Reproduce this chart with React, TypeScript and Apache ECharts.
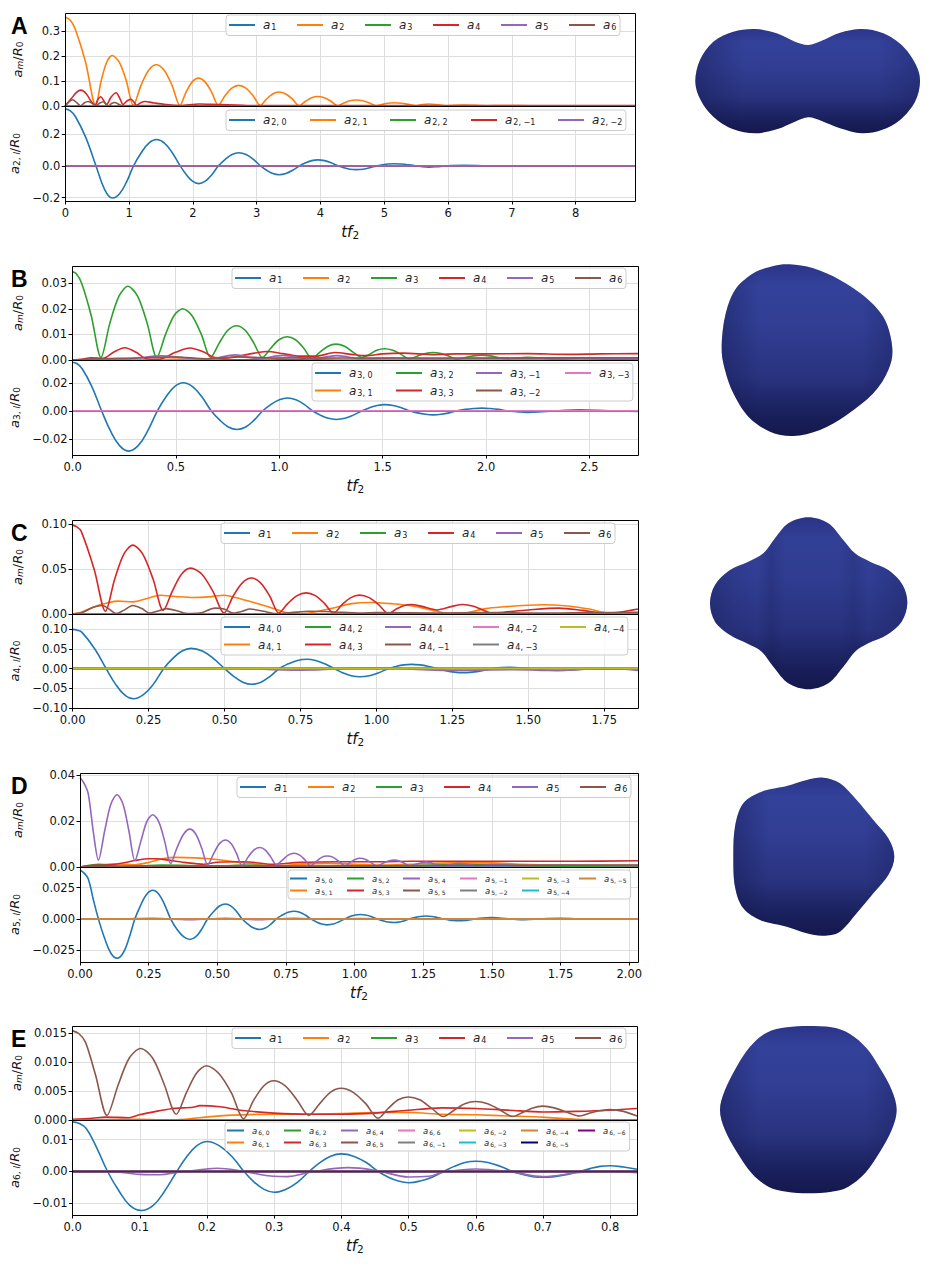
import { useEffect, useRef } from 'react'
import * as echarts from 'echarts'

const FONT = 'DejaVu Sans'
const PALETTE = ['#1f77b4', '#ff7f0e', '#2ca02c', '#d62728', '#9467bd', '#8c564b', '#e377c2', '#7f7f7f', '#bcbd22', '#17becf', '#cd853f', '#000080', '#800080']

// ---- panel A ----
const xMaxA = 8.93
const ampA2 = [[0,.358],[.08,.346],[.16,.31],[.32,.179],[.48,.002],[.567,.1015],[.653,.176],[.74,.203],[.85,.176],[.96,.1015],[1.07,.002],[1.19,.083],[1.31,.144],[1.43,.166],[1.553,.144],[1.677,.083],[1.8,.002],[1.897,.056],[1.993,.097],[2.09,.112],[2.193,.097],[2.297,.056],[2.4,.003],[2.507,.0415],[2.613,.072],[2.72,.083],[2.833,.072],[2.947,.0415],[3.06,.002],[3.157,.028],[3.253,.0485],[3.35,.056],[3.457,.0485],[3.563,.028],[3.67,.001],[3.767,.019],[3.863,.033],[3.96,.038],[4.063,.033],[4.167,.019],[4.27,.001],[4.367,.012],[4.463,.021],[4.56,.024],[4.667,.021],[4.773,.012],[4.88,.001],[4.97,.0065],[5.06,.0113],[5.15,.013],[5.267,.0113],[5.383,.0065],[5.5,.001],[5.6,.006],[5.7,.008],[5.85,.005],[6,.001],[6.25,.004],[6.6,.001],[6.9,.002],[7.3,.001],[8.93,.0005]]
const ampA4 = [[0,0],[.1,.03],[.18,.055],[.25,.064],[.33,.05],[.42,.015],[.47,.004],[.52,.028],[.56,.037],[.61,.02],[.65,.006],[.72,.035],[.8,.053],[.86,.03],[.91,.006],[.97,.02],[1.03,.027],[1.08,.016],[1.12,.003],[1.18,.012],[1.25,.018],[1.4,.012],[1.58,.006],[1.8,.002],[2.1,.008],[2.4,.006],[2.7,.004],[3,.002],[3.5,.002],[4.5,.002],[8.93,.002]]
const ampA6 = [[0,0],[.06,.016],[.12,.025],[.19,.012],[.25,.001],[.3,.012],[.36,.018],[.43,.01],[.49,.001],[.54,.011],[.6,.017],[.65,.005],[.68,.001],[.73,.01],[.78,.014],[.84,.007],[.9,.001],[1.2,.002],[2,.001],[8.93,.001]]
const sigA = [[0,.36],[.08,.347],[.16,.31],[.32,.18],[.48,0],[.567,-.1015],[.653,-.176],[.74,-.203],[.85,-.176],[.96,-.1015],[1.07,0],[1.19,.083],[1.31,.144],[1.43,.166],[1.553,.144],[1.677,.083],[1.8,0],[1.897,-.056],[1.993,-.097],[2.09,-.112],[2.193,-.097],[2.297,-.056],[2.4,0],[2.507,.0415],[2.613,.072],[2.72,.083],[2.833,.072],[2.947,.0415],[3.06,0],[3.157,-.028],[3.253,-.0485],[3.35,-.056],[3.457,-.0485],[3.563,-.028],[3.67,0],[3.767,.019],[3.863,.033],[3.96,.038],[4.063,.033],[4.167,.019],[4.27,0],[4.367,-.012],[4.463,-.021],[4.56,-.024],[4.667,-.021],[4.773,-.012],[4.88,0],[4.97,.0065],[5.06,.0113],[5.15,.013],[5.267,.0113],[5.383,.0065],[5.5,0],[5.6,-.006],[5.7,-.008],[5.85,-.005],[6,0],[6.25,.004],[6.6,0],[6.9,-.002],[7.3,.001],[8,0],[8.93,0]]

// ---- panel B ----
const xMaxB = 2.735
const ampB3 = [[0,.0345],[.02,.0338],[.047,.0299],[.093,.0173],[.14,.001],[.183,.0144],[.227,.0249],[.27,.0288],[.317,.0249],[.363,.0144],[.41,.001],[.452,.01],[.493,.0173],[.535,.02],[.58,.0173],[.625,.01],[.67,.001],[.712,.0067],[.753,.0116],[.795,.0134],[.837,.0116],[.878,.0067],[.92,.001],[.96,.0046],[1,.0079],[1.04,.0091],[1.08,.0079],[1.12,.0046],[1.16,.0005],[1.198,.0031],[1.237,.0054],[1.275,.0062],[1.317,.0054],[1.358,.0031],[1.4,.001],[1.437,.0022],[1.473,.0038],[1.51,.0044],[1.55,.0038],[1.59,.0022],[1.63,.0005],[1.668,.0015],[1.707,.0025],[1.745,.0029],[1.783,.0025],[1.822,.0015],[1.86,.0003],[1.9,.001],[1.94,.0016],[1.98,.0019],[2.02,.0016],[2.06,.001],[2.1,.0005],[2.2,.0011],[2.35,.0004],[2.45,.0007],[2.6,.0003],[2.735,.0004]]
const ampB4 = [[0,0],[.05,.0003],[.09,.0009],[.15,.0007],[.2,.003],[.255,.0048],[.31,.003],[.36,.0005],[.42,.0003],[.5,.003],[.57,.0047],[.64,.003],[.68,.0012],[.75,.0008],[.85,.0022],[.94,.0033],[1.02,.0025],[1.1,.0015],[1.18,.0015],[1.27,.0029],[1.35,.0022],[1.42,.0017],[1.5,.0024],[1.6,.0027],[1.75,.0021],[1.85,.0024],[2,.0024],[2.2,.0025],[2.4,.0022],[2.55,.0024],[2.735,.0025]]
const ampB5 = [[0,0],[.2,.0003],[.3,.0006],[.43,.0016],[.55,.0008],[.65,.0003],[.79,.002],[.9,.0006],[1.02,.0018],[1.15,.0004],[1.28,.0017],[1.4,.0005],[1.55,.0008],[1.75,.0005],[2,.0007],[2.3,.0006],[2.735,.0007]]
const ampB6 = [[0,0],[.1,.0005],[.3,.0008],[.5,.0012],[.65,.0005],[.8,.0012],[1,.0008],[1.2,.0008],[1.5,.0008],[2,.0008],[2.735,.0009]]
const ampB2 = [[0,0],[.35,.0001],[.52,.0004],[.65,.0001],[.8,.0012],[.95,.0004],[1.05,.0011],[1.3,.0003],[1.6,.0002],[2.735,.0002]]
const ampB1 = [[0,0],[.8,.0001],[.95,.0003],[1.1,.0001],[2.735,.0001]]
const sigB = [[0,.0345],[.02,.0338],[.047,.0299],[.093,.0173],[.14,0],[.183,-.0144],[.227,-.0249],[.27,-.0288],[.317,-.0249],[.363,-.0144],[.41,0],[.452,.01],[.493,.0173],[.535,.02],[.58,.0173],[.625,.01],[.67,0],[.712,-.0067],[.753,-.0116],[.795,-.0134],[.837,-.0116],[.878,-.0067],[.92,0],[.96,.0046],[1,.0079],[1.04,.0091],[1.08,.0079],[1.12,.0046],[1.16,0],[1.198,-.0031],[1.237,-.0054],[1.275,-.0062],[1.317,-.0054],[1.358,-.0031],[1.4,0],[1.437,.0022],[1.473,.0038],[1.51,.0044],[1.55,.0038],[1.59,.0022],[1.63,0],[1.668,-.0015],[1.707,-.0025],[1.745,-.0029],[1.783,-.0025],[1.822,-.0015],[1.86,0],[1.9,.001],[1.94,.0016],[1.98,.0019],[2.02,.0016],[2.06,.001],[2.1,0],[2.15,-.0006],[2.2,-.0011],[2.27,-.0007],[2.35,0],[2.45,.0007],[2.6,0],[2.735,-.0004]]

// ---- panel C ----
const xMaxC = 1.861
const ampC4 = [[0,.099],[.015,.097],[.03,.092],[.073,.0495],[.11,.003],[.14,.0383],[.17,.0663],[.2,.0765],[.233,.0663],[.267,.0383],[.3,.004],[.33,.0255],[.36,.0442],[.39,.051],[.427,.0442],[.463,.0255],[.5,.001],[.53,.02],[.56,.0346],[.59,.04],[.62,.0346],[.65,.02],[.68,.001],[.71,.0118],[.74,.0204],[.77,.0235],[.8,.0204],[.83,.0118],[.86,.001],[.888,.0105],[.917,.0182],[.945,.021],[.977,.0182],[1.008,.0105],[1.04,.0005],[1.065,.0053],[1.09,.0091],[1.115,.0105],[1.15,.0085],[1.2,.0045],[1.25,.0085],[1.285,.0105],[1.32,.0085],[1.35,.0045],[1.38,.001],[1.42,.002],[1.5,.0045],[1.6,.0065],[1.68,.004],[1.75,.001],[1.8,.002],[1.861,.0055]]
const ampC2 = [[0,0],[.03,.002],[.08,.009],[.12,.0125],[.15,.0143],[.2,.0135],[.25,.0175],[.29,.0208],[.34,.0195],[.4,.0183],[.45,.019],[.5,.0208],[.54,.018],[.6,.0125],[.65,.0075],[.7,.002],[.75,.0005],[.78,.001],[.85,.006],[.92,.0115],[.98,.0128],[1.05,.0115],[1.12,.009],[1.2,.003],[1.25,.0002],[1.3,.0015],[1.36,.006],[1.42,.008],[1.5,.0098],[1.55,.0103],[1.62,.0092],[1.7,.0055],[1.76,.0012],[1.861,.0006]]
const ampC6 = [[0,0],[.03,.001],[.07,.0075],[.1,.0095],[.12,.006],[.145,.0005],[.17,.004],[.2,.0095],[.23,.006],[.255,.001],[.28,.003],[.31,.006],[.35,.003],[.38,.0005],[.42,.001],[.47,.0065],[.5,.0055],[.53,.001],[.56,.003],[.585,.0055],[.63,.003],[.67,.0005],[.72,.0015],[.78,.003],[.85,.0025],[.95,.001],[1,.0015],[1.2,.001],[1.4,.0015],[1.5,.001],[1.7,.0015],[1.861,.002]]
const sigC = [[0,.099],[.015,.097],[.03,.092],[.073,.0495],[.11,0],[.14,-.0383],[.17,-.0663],[.2,-.0765],[.233,-.0663],[.267,-.0383],[.3,0],[.33,.0255],[.36,.0442],[.39,.051],[.427,.0442],[.463,.0255],[.5,0],[.53,-.02],[.56,-.0346],[.59,-.04],[.62,-.0346],[.65,-.02],[.68,0],[.71,.0118],[.74,.0204],[.77,.0235],[.8,.0204],[.83,.0118],[.86,0],[.888,-.0105],[.917,-.0182],[.945,-.021],[.977,-.0182],[1.008,-.0105],[1.04,0],[1.065,.0053],[1.09,.0091],[1.115,.0105],[1.143,.0091],[1.172,.0053],[1.2,0],[1.228,-.0053],[1.257,-.0091],[1.285,-.0105],[1.315,-.0091],[1.348,-.0053],[1.38,0],[1.44,.003],[1.5,0],[1.6,-.005],[1.7,-.001],[1.861,-.002]]
const sigC44 = [[0,0],[.25,-.002],[.5,.001],[.75,-.004],[.98,.002],[1.25,-.005],[1.45,-.003],[1.6,-.005],[1.75,0],[1.861,-.005]]

// ---- panel D ----
const xMaxD = 2.032
const ampD5 = [[0,.039],[.015,.0365],[.03,.032],[.05,.014],[.067,.003],[.09,.0158],[.112,.0273],[.135,.0315],[.157,.0273],[.178,.0158],[.2,.0028],[.222,.0114],[.243,.0197],[.265,.0228],[.287,.0197],[.308,.0114],[.33,.0015],[.353,.0083],[.377,.0143],[.4,.0165],[.422,.0143],[.443,.0083],[.465,.001],[.487,.0059],[.508,.0102],[.53,.0118],[.55,.0102],[.57,.0059],[.59,.0005],[.612,.0043],[.633,.0074],[.655,.0085],[.675,.0074],[.695,.0043],[.715,.001],[.737,.003],[.758,.0052],[.78,.006],[.8,.0052],[.82,.003],[.84,.0005],[.86,.0024],[.88,.0042],[.9,.0048],[.922,.0042],[.943,.0024],[.965,.0005],[.983,.0019],[1.002,.0033],[1.02,.0038],[1.04,.0033],[1.06,.0019],[1.08,.0005],[1.102,.0015],[1.123,.0026],[1.145,.003],[1.163,.0026],[1.182,.0015],[1.2,.0006],[1.26,.0022],[1.32,.0005],[1.38,.0016],[1.45,.0005],[1.5,.0012],[1.6,.0006],[1.75,.0008],[2.032,.0006]]
const ampD4 = [[0,0],[.05,.0007],[.1,.0008],[.15,.0016],[.2,.0028],[.25,.0036],[.28,.0036],[.32,.003],[.38,.002],[.45,.0012],[.5,.0021],[.6,.0023],[.7,.0012],[.8,.002],[.95,.0023],[1.1,.0023],[1.2,.0025],[1.4,.0025],[1.6,.0025],[1.8,.0025],[2.032,.0027]]
const ampD2 = [[0,0],[.05,.0005],[.12,.0013],[.2,.001],[.25,.002],[.3,.0036],[.35,.0042],[.42,.004],[.48,.0035],[.55,.0025],[.62,.0015],[.7,.0005],[.8,.0012],[.9,.0016],[1,.0012],[1.1,.0008],[1.2,.0012],[1.35,.0018],[1.5,.0018],[1.6,.0012],[1.75,.0008],[2.032,.0006]]
const ampD3 = [[0,0],[.07,.0012],[.15,.0003],[.3,.0008],[.5,.0005],[.6,.0008],[.7,.0006],[.9,.0002],[1.2,.0005],[1.4,.0012],[1.55,.0008],[1.7,.0003],[2.032,.0005]]
const ampD6 = [[0,0],[.1,.0003],[.3,.0004],[.5,.0003],[1,.0005],[1.5,.0007],[2.032,.0009]]
const sigD = [[0,.039],[.015,.0365],[.03,.032],[.05,.014],[.067,0],[.09,-.0158],[.112,-.0273],[.135,-.0315],[.157,-.0273],[.178,-.0158],[.2,0],[.222,.0114],[.243,.0197],[.265,.0228],[.287,.0197],[.308,.0114],[.33,0],[.353,-.0083],[.377,-.0143],[.4,-.0165],[.422,-.0143],[.443,-.0083],[.465,0],[.487,.0059],[.508,.0102],[.53,.0118],[.55,.0102],[.57,.0059],[.59,0],[.612,-.0043],[.633,-.0074],[.655,-.0085],[.675,-.0074],[.695,-.0043],[.715,0],[.737,.003],[.758,.0052],[.78,.006],[.8,.0052],[.82,.003],[.84,0],[.86,-.0024],[.88,-.0042],[.9,-.0048],[.922,-.0042],[.943,-.0024],[.965,0],[.983,.0018],[1.002,.003],[1.02,.0035],[1.04,.003],[1.06,.0018],[1.08,0],[1.102,-.0015],[1.123,-.0026],[1.145,-.003],[1.163,-.0026],[1.182,-.0015],[1.2,0],[1.22,.0011],[1.24,.0019],[1.26,.0022],[1.28,.0019],[1.3,.0011],[1.32,0],[1.34,-.0008],[1.36,-.0014],[1.38,-.0016],[1.4,-.0014],[1.42,-.0008],[1.44,0],[1.5,.001],[1.56,0],[1.62,-.0007],[1.68,0],[1.75,.0005],[1.81,0],[1.87,-.0004],[1.93,0],[2.032,0]]
const sigD54 = [[0,0],[.13,-.0002],[.265,.0005],[.4,-.0008],[.53,.0005],[.65,-.0007],[.78,.0005],[.9,-.0003],[1.02,.0002],[1.2,0],[2.032,0]]

// ---- panel E ----
const xMaxE = 0.84
const ampE6 = [[0,.0155],[.01,.015],[.02,.0135],[.035,.0078],[.052,.0008],[.069,.0062],[.085,.0107],[.102,.0124],[.12,.0107],[.137,.0062],[.155,.001],[.17,.0047],[.185,.0081],[.2,.0094],[.218,.0081],[.237,.0047],[.255,.0002],[.27,.0034],[.285,.0059],[.3,.0068],[.317,.0059],[.335,.0034],[.352,.0008],[.368,.0028],[.384,.0048],[.4,.0055],[.418,.0048],[.437,.0028],[.455,.0003],[.47,.002],[.485,.0035],[.5,.004],[.517,.0035],[.535,.002],[.552,.0006],[.568,.0017],[.584,.0028],[.6,.0032],[.618,.0028],[.637,.0017],[.655,.0006],[.67,.0013],[.685,.0021],[.7,.0024],[.717,.0021],[.737,.0013],[.755,.0007],[.77,.0012],[.785,.0016],[.8,.0018],[.82,.0015],[.84,.0007]]
const ampE4 = [[0,.0001],[.03,.0003],[.05,.0005],[.085,.0004],[.1,.0009],[.13,.0016],[.15,.002],[.18,.0022],[.19,.0025],[.22,.0023],[.25,.0017],[.3,.0012],[.35,.001],[.4,.001],[.45,.0012],[.5,.0017],[.55,.0021],[.6,.002],[.65,.0017],[.7,.0014],[.75,.0015],[.8,.0017],[.84,.002]]
const ampE2 = [[0,0],[.1,.0001],[.15,0],[.19,.0004],[.23,.0008],[.3,.001],[.35,.001],[.4,.0011],[.45,.0013],[.5,.0013],[.55,.001],[.6,.0009],[.65,.0007],[.7,.0005],[.75,.0001],[.84,0]]
const sigE = [[0,.0155],[.01,.015],[.02,.0135],[.035,.0078],[.052,0],[.069,-.0061],[.085,-.0106],[.102,-.0122],[.12,-.0106],[.137,-.0061],[.155,0],[.17,.0047],[.185,.0081],[.2,.0094],[.218,.0081],[.237,.0047],[.255,0],[.27,-.0033],[.285,-.0056],[.3,-.0065],[.317,-.0056],[.335,-.0033],[.352,0],[.368,.0028],[.384,.0048],[.4,.0055],[.418,.0048],[.437,.0028],[.455,0],[.47,-.0018],[.485,-.003],[.5,-.0035],[.517,-.003],[.535,-.0018],[.552,0],[.568,.0016],[.584,.0028],[.6,.0032],[.618,.0028],[.637,.0016],[.655,0],[.67,-.0009],[.685,-.0016],[.7,-.0018],[.717,-.0016],[.737,-.0009],[.755,0],[.77,.0009],[.785,.0016],[.8,.0018],[.82,.0014],[.84,.0007]]
const sigE64 = [[0,0],[.05,.0001],[.1,-.0009],[.13,-.001],[.155,-.0003],[.2,.0008],[.215,.001],[.255,0],[.3,-.0015],[.32,-.0016],[.352,-.0003],[.41,.0012],[.455,.0002],[.5,-.0017],[.53,-.0015],[.552,-.0002],[.6,.0008],[.655,-.0002],[.7,-.0016],[.755,-.0003],[.8,.0001],[.84,-.0004]]

// legend pitch of the columns, px
const TOP_NAMES = ['1', '2', '3', '4', '5', '6']
const TOP_PITCH = [68, 68, 68, 68, 68, 0]

const PANELS = [
  { letter: 'A', l: 2, left: 65, right: 635, top: 13, mid: 106, bottom: 201, xMax: xMaxA, dec: 0,
    xTicks: [0, 1, 2, 3, 4, 5, 6, 7, 8],
    yTop: [0, .374], yTopTicks: [0, .1, .2, .3], yTopDec: 1,
    yBot: [-.222, .378], yBotTicks: [-.2, 0, .2], yBotDec: 1,
    amps: { 2: ampA2, 4: ampA4, 6: ampA6 } as any, sigs: { '0': sigA } as any,
    bot: ['0', '1', '2', '-1', '-2'],
    legTop: { left: 226, top: 15 },
    legBot: { left: 226, top: 110, names: ['0', '1', '2', '-1', '-2'], pitch: [81, 80, 81, 87, 0], small: false } },
  { letter: 'B', l: 3, left: 72, right: 638, top: 266, mid: 360, bottom: 455, xMax: xMaxB, dec: 1,
    xTicks: [0, .5, 1, 1.5, 2, 2.5],
    yTop: [0, .0367], yTopTicks: [0, .01, .02, .03], yTopDec: 2,
    yBot: [-.0316, .0363], yBotTicks: [-.02, 0, .02], yBotDec: 2,
    amps: { 1: ampB1, 2: ampB2, 3: ampB3, 4: ampB4, 5: ampB5, 6: ampB6 } as any, sigs: { '0': sigB } as any,
    bot: ['0', '1', '2', '3', '-1', '-2', '-3'],
    legTop: { left: 232, top: 268 },
    legBot: { left: 312, top: 363, names: ['0', '2', '-1', '-3', '1', '3', '-2'], pitch: [81, 80, 89, 0], small: false } },
  { letter: 'C', l: 4, left: 72, right: 638, top: 520, mid: 614, bottom: 708, xMax: xMaxC, dec: 2,
    xTicks: [0, .25, .5, .75, 1, 1.25, 1.5, 1.75],
    yTop: [0, .1044], yTopTicks: [0, .05, .1], yTopDec: 2,
    yBot: [-.1, .138], yBotTicks: [-.1, -.05, 0, .05, .1], yBotDec: 2,
    amps: { 2: ampC2, 4: ampC4, 6: ampC6 } as any, sigs: { '0': sigC, '4': sigC44 } as any,
    bot: ['0', '1', '2', '3', '4', '-1', '-2', '-3', '-4'],
    legTop: { left: 221, top: 523 },
    legBot: { left: 221, top: 617, names: ['0', '2', '4', '-2', '-4', '1', '3', '-1', '-3'], pitch: [81, 80, 88, 87, 0], small: false } },
  { letter: 'D', l: 5, left: 80, right: 638, top: 773, mid: 867, bottom: 962, xMax: xMaxD, dec: 2,
    xTicks: [0, .25, .5, .75, 1, 1.25, 1.5, 1.75, 2],
    yTop: [0, .041], yTopTicks: [0, .02, .04], yTopDec: 2,
    yBot: [-.0345, .0414], yBotTicks: [-.025, 0, .025], yBotDec: 3,
    amps: { 2: ampD2, 3: ampD3, 4: ampD4, 5: ampD5, 6: ampD6 } as any, sigs: { '0': sigD, '4': sigD54 } as any,
    bot: ['0', '1', '2', '3', '4', '5', '-1', '-2', '-3', '-4', '-5'],
    legTop: { left: 237, top: 777 },
    legBot: { left: 288, top: 870, names: ['0', '2', '4', '-1', '-3', '-5', '1', '3', '5', '-2', '-4'], pitch: [57, 56, 57, 62, 57, 0], small: true } },
  { letter: 'E', l: 6, left: 72, right: 637, top: 1026, mid: 1120, bottom: 1215, xMax: xMaxE, dec: 1,
    xTicks: [0, .1, .2, .3, .4, .5, .6, .7, .8],
    yTop: [0, .0163], yTopTicks: [0, .005, .01, .015], yTopDec: 3,
    yBot: [-.0136, .0161], yBotTicks: [-.01, 0, .01], yBotDec: 2,
    amps: { 2: ampE2, 4: ampE4, 6: ampE6 } as any, sigs: { '0': sigE, '4': sigE64 } as any,
    bot: ['0', '1', '2', '3', '4', '5', '6', '-1', '-2', '-3', '-4', '-5', '-6'],
    legTop: { left: 232, top: 1028 },
    legBot: { left: 225, top: 1122, names: ['0', '2', '4', '6', '-2', '-4', '-6', '1', '3', '5', '-1', '-3', '-5'], pitch: [57, 57, 57, 61, 62, 57, 0], small: true } },
]

const SIDE_SHADE = [[0, .35], [.22, 0], [.82, 0], [1, .25]]
const FOLD_SHADE = [[0, .3], [.12, .1], [.24, 0], [.31, .2], [.38, .04], [.66, .04], [.73, .16], [.8, 0], [1, .25]]

const BLOBS = [
  { name: 'blobA', ox: 680, oy: 20, shade: SIDE_SHADE, pts: [46,185,60,120,100,65,160,35,225,27,290,40,345,65,385,75,425,62,480,38,545,27,610,40,670,80,708,135,720,185,705,245,660,300,605,330,545,340,480,325,425,303,385,292,345,305,290,328,225,340,160,328,100,290,62,240] },
  { name: 'blobB', ox: 680, oy: 20, shade: SIDE_SHADE, pts: [125,985,135,890,165,810,220,760,280,738,330,733,400,745,480,780,560,835,615,900,637,985,625,1050,580,1120,500,1185,420,1230,340,1248,270,1235,205,1190,160,1120,135,1050] },
  { name: 'blobC', ox: 680, oy: 510, shade: FOLD_SHADE, pts: [90,280,105,225,150,180,205,155,250,130,285,85,325,40,385,22,445,40,490,90,525,130,570,155,625,180,668,225,682,280,665,335,620,375,565,400,525,425,490,470,445,520,385,538,325,520,280,470,245,425,200,400,150,375,105,335] },
  { name: 'blobD', ox: 680, oy: 510, shade: SIDE_SHADE, pts: [160,1040,165,950,190,880,245,845,320,828,380,810,430,803,480,820,530,870,580,930,625,985,643,1040,625,1095,580,1150,530,1210,480,1265,430,1277,380,1270,320,1250,245,1232,190,1195,165,1130] },
  { name: 'blobE', ox: 700, oy: 1010, shade: SIDE_SHADE, pts: [60,300,75,240,110,170,150,110,200,68,260,52,325,48,395,52,450,72,500,115,540,175,575,240,590,300,575,360,540,425,495,490,445,530,395,545,325,550,260,545,205,530,155,490,110,425,75,360] },
]

function closedPath(ox: number, oy: number, pts: number[]) {
  const p: [number, number][] = []
  for (let i = 0; i < pts.length; i += 2) p.push([ox + pts[i] / 3, oy + pts[i + 1] / 3])
  const n = p.length
  let d = `M${p[0][0].toFixed(2)} ${p[0][1].toFixed(2)}`
  for (let i = 0; i < n; i++) {
    const a = p[(i + n - 1) % n], b = p[i], c = p[(i + 1) % n], e = p[(i + 2) % n]
    const c1 = [b[0] + (c[0] - a[0]) / 6, b[1] + (c[1] - a[1]) / 6]
    const c2 = [c[0] - (e[0] - b[0]) / 6, c[1] - (e[1] - b[1]) / 6]
    d += `C${c1[0].toFixed(2)} ${c1[1].toFixed(2)} ${c2[0].toFixed(2)} ${c2[1].toFixed(2)} ${c[0].toFixed(2)} ${c[1].toFixed(2)}`
  }
  return d + 'Z'
}

BLOBS.forEach(b => echarts.graphic.registerShape(b.name, echarts.graphic.extendPath(closedPath(b.ox, b.oy, b.pts), {})))

const tick = (dec: number) => (v: number) => v.toFixed(dec).replace('-', '\u2212')
const minus = (s: string) => s.replace('-', '\u2212')

const measure = document.createElement('canvas').getContext('2d') as CanvasRenderingContext2D
function textW(text: string, font: string) {
  measure.font = font
  return measure.measureText(text).width
}

function makeLegend(names: string[], seriesName: (n: string) => string, sub: (n: string) => string, pitch: number[], left: number, top: number, small: boolean) {
  const handle = small ? 17 : 26
  const aSize = small ? 8.5 : 12
  const subSize = small ? 6 : 8
  const gap = small ? 3 : 5
  const pad = 3
  const cols = pitch.length
  const aW = textW('a', `italic ${aSize}px ${FONT}`)
  const spaceW = textW(' ', `${subSize}px ${FONT}`)
  const subPad = small ? 3 : 5
  const rich: any = {
    i: { fontFamily: FONT, fontStyle: 'italic', fontSize: aSize, color: '#222', padding: [0, 0, 0, pad] },
    z: { fontFamily: FONT, fontSize: subSize, color: '#222' },
  }
  names.forEach((n, idx) => {
    const w = pitch[idx % cols]
    const sw = textW(sub(n), `${subSize}px ${FONT}`)
    // right padding holds the columns at the reference pitch, the last space makes it count
    const right = w ? Math.max(0, w - handle - 5 - pad - aW - 1 - sw - spaceW - gap) : 0
    rich['n' + idx] = { fontFamily: FONT, fontSize: subSize, color: '#222', padding: [subPad, right, 0, 1] }
  })
  const last = handle + 5 + pad + aW + textW('0, \u22120', `${subSize}px ${FONT}`) + 4
  return {
    show: true, left, top, orient: 'horizontal', selectedMode: false,
    data: names.map(n => ({ name: seriesName(n), icon: 'rect' })),
    itemWidth: handle, itemHeight: 2, itemGap: gap,
    padding: small ? [4, 2, 4, 2] : [4, 1, 4, 3],
    width: pitch.reduce((a, b) => a + b, 0) + last + 8,
    backgroundColor: 'rgba(255,255,255,0.8)', borderColor: '#cccccc', borderWidth: 1, borderRadius: 3,
    textStyle: { rich, fontFamily: FONT },
    formatter: (name: string) => {
      const n = name.split('|')[1]
      return `{i|a}{n${names.indexOf(n)}|${sub(n)}}{z| }`
    },
  }
}

function buildOption() {
  const grid: any[] = [], xAxis: any[] = [], yAxis: any[] = [], series: any[] = [], legend: any[] = [], graphic: any[] = []
  const yRich = {
    i: { fontFamily: FONT, fontStyle: 'italic', fontSize: 13, color: '#111' },
    s: { fontFamily: FONT, fontStyle: 'italic', fontSize: 9, color: '#111', padding: [5, 0, 0, 0] },
    t: { fontFamily: FONT, fontSize: 9, color: '#111', padding: [5, 0, 0, 0] },
    n: { fontFamily: FONT, fontSize: 13, color: '#111' },
  }
  const splitLine = { show: true, lineStyle: { color: '#dedede', width: 1 } }

  PANELS.forEach((p, k) => {
    const ti = k * 2, bi = k * 2 + 1
    const width = p.right - p.left
    const yGap = p.left - 24
    // two stacked axes per panel
    grid.push({ left: p.left, top: p.top, width, height: p.mid - p.top })
    grid.push({ left: p.left, top: p.mid, width, height: p.bottom - p.mid })
    xAxis.push({
      type: 'value', gridIndex: ti, min: 0, max: p.xMax, axisLine: { show: false, onZero: false },
      axisTick: { show: false, customValues: p.xTicks }, axisLabel: { show: false, customValues: p.xTicks }, splitLine,
    })
    xAxis.push({
      type: 'value', gridIndex: bi, min: 0, max: p.xMax, axisLine: { show: false, onZero: false },
      axisTick: { show: true, length: 3.5, lineStyle: { color: '#000' }, customValues: p.xTicks },
      axisLabel: { show: true, customValues: p.xTicks, formatter: tick(p.dec), color: '#111', fontFamily: FONT, fontSize: 11.5, margin: 6 },
      splitLine,
      name: '{i|tf}{s|2}', nameLocation: 'middle', nameGap: 22,
      nameTextStyle: { rich: { i: { fontFamily: FONT, fontStyle: 'italic', fontSize: 15, color: '#111' }, s: { fontFamily: FONT, fontSize: 10.5, color: '#111', padding: [6, 0, 0, 0] } } },
    })
    yAxis.push({
      type: 'value', gridIndex: ti, min: p.yTop[0], max: p.yTop[1], axisLine: { show: false, onZero: false },
      axisTick: { show: true, length: 3.5, lineStyle: { color: '#000' }, customValues: p.yTopTicks },
      axisLabel: { show: true, customValues: p.yTopTicks, formatter: tick(p.yTopDec), color: '#111', fontFamily: FONT, fontSize: 11.5, margin: 5 },
      splitLine,
      name: '{i|a}{s|m}{n|/}{i|R}{t|0}', nameLocation: 'middle', nameGap: yGap,
      nameTextStyle: { rich: yRich },
    })
    yAxis.push({
      type: 'value', gridIndex: bi, min: p.yBot[0], max: p.yBot[1], axisLine: { show: false, onZero: false },
      axisTick: { show: true, length: 3.5, lineStyle: { color: '#000' }, customValues: p.yBotTicks },
      axisLabel: { show: true, customValues: p.yBotTicks, formatter: tick(p.yBotDec), color: '#111', fontFamily: FONT, fontSize: 11.5, margin: 5 },
      splitLine,
      name: `{i|a}{t|${p.l}, }{s|l}{n|/}{i|R}{t|0}`, nameLocation: 'middle', nameGap: yGap,
      nameTextStyle: { rich: yRich },
    })

    const flat = [[0, 0], [p.xMax, 0]]
    TOP_NAMES.forEach((n, c) => {
      series.push({
        type: 'line', name: `top|${n}`, xAxisIndex: ti, yAxisIndex: ti,
        data: p.amps[n] ?? flat, showSymbol: false, symbol: 'none', smooth: 0.3,
        itemStyle: { color: PALETTE[c] }, lineStyle: { color: PALETTE[c], width: 1.6 },
      })
    })
    p.bot.forEach((n, c) => {
      series.push({
        type: 'line', name: `${p.l}|${n}`, xAxisIndex: bi, yAxisIndex: bi,
        data: p.sigs[n] ?? flat, showSymbol: false, symbol: 'none', smooth: 0.4,
        itemStyle: { color: PALETTE[c] }, lineStyle: { color: PALETTE[c], width: 1.6 },
      })
    })

    legend.push(makeLegend(TOP_NAMES, n => `top|${n}`, n => n, TOP_PITCH, p.legTop.left, p.legTop.top, false))
    legend.push(makeLegend(p.legBot.names, n => `${p.l}|${n}`, n => `${p.l}, ${minus(n)}`, p.legBot.pitch, p.legBot.left, p.legBot.top, p.legBot.small))

    // black spines above the lines, panel letter
    const frame = { type: 'rect', silent: true, z: 100, style: { fill: 'none', stroke: '#000', lineWidth: 1 } }
    graphic.push({ ...frame, shape: { x: p.left + .5, y: p.top + .5, width, height: p.mid - p.top } })
    graphic.push({ ...frame, shape: { x: p.left + .5, y: p.mid + .5, width, height: p.bottom - p.mid } })
    graphic.push({ type: 'text', x: 11, y: p.top + 1, silent: true, z: 100, style: { text: p.letter, fontFamily: 'Liberation Sans', fontWeight: 'bold', fontSize: 23, fill: '#000' } })

    const b = BLOBS[k]
    graphic.push({ type: b.name, silent: true, z: 50, style: { fill: new echarts.graphic.LinearGradient(0, 0, 0, 1, [
      { offset: 0, color: '#2b3588' }, { offset: .12, color: '#33419a' }, { offset: .35, color: '#313e93' },
      { offset: .65, color: '#29337f' }, { offset: .88, color: '#191f5a' }, { offset: 1, color: '#14184c' },
    ]) } })
    graphic.push({ type: b.name, silent: true, z: 51, style: { fill: new echarts.graphic.LinearGradient(0, 0, 1, 0,
      b.shade.map(s => ({ offset: s[0], color: `rgba(16,20,70,${s[1]})` }))) } })
  })

  return { animation: false, backgroundColor: '#fff', textStyle: { fontFamily: FONT }, grid, xAxis, yAxis, series, legend, graphic }
}

export default function App() {
  const ref = useRef<HTMLDivElement>(null)

  useEffect(() => {
    if (!ref.current) return
    const chart = echarts.init(ref.current, undefined, { renderer: 'svg' })
    chart.setOption(buildOption() as any)
    return () => chart.dispose()
  }, [])

  return <div ref={ref} style={{ position: 'fixed', left: 0, top: 0, width: 948, height: 1264 }} />
}
